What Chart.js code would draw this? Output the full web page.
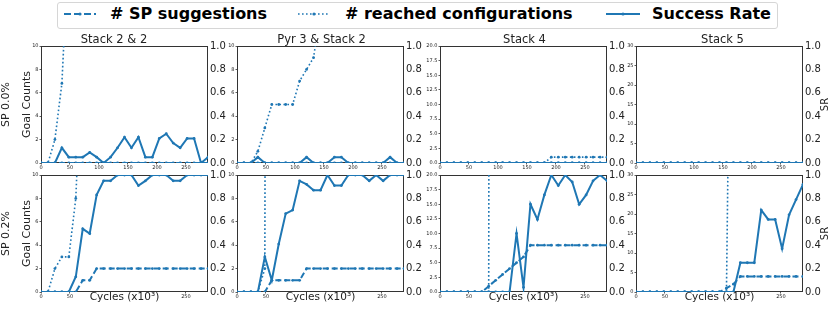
<!DOCTYPE html>
<html lang="en">
<head>
<meta charset="utf-8" />
<title>SP suggestions, reached configurations and success rate</title>
<style>
  * { margin: 0; padding: 0; }
  body {
    width: 831px;
    height: 312px;
    background: #fff;
    position: relative;
    overflow: hidden;
    font-family: "DejaVu Sans", sans-serif;
  }
  .panel { position: absolute; }
  #legend {
    position: absolute;
    left: 57px;
    top: 2px;
    width: 721px;
    height: 27px;
    border: 1px solid #d6d6d6;
    border-radius: 3px;
    box-sizing: border-box;
  }
  #legend svg { position: absolute; top: 6px; }
  #legend span {
    position: absolute;
    top: 2px;
    font-weight: bold;
    font-size: 16px;
    line-height: 18px;
    color: #000;
    white-space: nowrap;
  }
</style>
</head>
<body>
<div id="legend">
  <svg style="left:6px" width="32" height="10"><line x1="0" y1="5" x2="32" y2="5" stroke="#1f77b4" stroke-width="2" stroke-dasharray="7 3"/><circle cx="16" cy="5" r="1.6" fill="#1f77b4"/></svg>
  <span style="left:52px"># SP suggestions</span>
  <svg style="left:240px" width="32" height="10"><line x1="0" y1="5" x2="32" y2="5" stroke="#1f77b4" stroke-width="1.6" stroke-dasharray="1.6 2.4"/><circle cx="16" cy="5" r="1.6" fill="#1f77b4"/></svg>
  <span style="left:287px"># reached configurations</span>
  <svg style="left:548px" width="34" height="10"><line x1="0" y1="5" x2="34" y2="5" stroke="#1f77b4" stroke-width="2"/><circle cx="17" cy="5" r="1.6" fill="#1f77b4"/></svg>
  <span style="left:594px">Success Rate</span>
</div>

<script src="https://cdn.jsdelivr.net/npm/chart.js@4.4.1/dist/chart.umd.min.js"></script>
<script>
  // x values (cycles, x10^3)
  const cycles = [0, 12, 24, 36, 48, 60, 72, 84, 96, 108, 120, 132, 144, 156, 168, 180, 192, 204, 216, 228, 240, 252, 264, 276, 288];
  const tasks = ["Stack 2 & 2", "Pyr 3 & Stack 2", "Stack 4", "Stack 5"];
  const spRates = ["SP 0.0%", "SP 0.2%"];
  const cycleTicks = [0, 50, 100, 150, 200, 250];
  // in the lower row the axis title covers the middle labels
  const cycleTicksLower = [0, 50, 250];
  const countTicks = [
    [0, 2, 4, 6, 8, 10],
    [0, 2, 4, 6, 8, 10],
    [0, 2.5, 5, 7.5, 10, 12.5, 15, 17.5, 20],
    [0, 5, 10, 15, 20, 25, 30],
  ];
  const srTicks = [0, 0.2, 0.4, 0.6, 0.8, 1.0];

  // SP 0.0%
  const sugg_s22_00 = [0, 0, 0, 0, 0, 0, 0, 0, 0, 0, 0, 0, 0, 0, 0, 0, 0, 0, 0, 0, 0, 0, 0, 0, 0];
  const reached_s22_00 = [0, 0, 2, 6.8, 19, null, null, null, null, null, null, null, null, null, null, null, null, null, null, null, null, null, null, null, null];
  const sr_s22_00 = [0, 0, 0, 0.13, 0.05, 0.05, 0.05, 0.09, 0.05, 0, 0.05, 0.13, 0.22, 0.13, 0.22, 0.05, 0.05, 0.21, 0.25, 0.17, 0.13, 0.21, 0.21, 0, 0.05];

  const sugg_p3s2_00 = [0, 0, 0, 0, 0, 0, 0, 0, 0, 0, 0, 0, 0, 0, 0, 0, 0, 0, 0, 0, 0, 0, 0, 0, 0];
  const reached_p3s2_00 = [0, 0, 0, 1, 3, 5, 5, 5, 5, 7, 8, 9, 13, null, null, null, null, null, null, null, null, null, null, null, null];
  const sr_p3s2_00 = [0, 0, 0, 0.05, 0, 0, 0, 0, 0, 0, 0.05, 0, 0, 0, 0.05, 0.05, 0, 0, 0, 0, 0, 0, 0.05, 0, 0];

  const sugg_s4_00 = [0, 0, 0, 0, 0, 0, 0, 0, 0, 0, 0, 0, 0, 0, 0, 0, 0, 0, 0, 0, 0, 0, 0, 0, 0];
  const reached_s4_00 = [0, 0, 0, 0, 0, 0, 0, 0, 0, 0, 0, 0, 0, 0, 0, 0, 1, 1, 1, 1, 1, 1, 1, 1, 1];
  const sr_s4_00 = [0, 0, 0, 0, 0, 0, 0, 0, 0, 0, 0, 0, 0, 0, 0, 0, 0, 0, 0, 0, 0, 0, 0, 0, 0];

  const sugg_s5_00 = [0, 0, 0, 0, 0, 0, 0, 0, 0, 0, 0, 0, 0, 0, 0, 0, 0, 0, 0, 0, 0, 0, 0, 0, 0];
  const reached_s5_00 = [0, 0, 0, 0, 0, 0, 0, 0, 0, 0, 0, 0, 0, 0, 0, 0, 0, 0, 0, 0, 0, 0, 0, 0, 0];
  const sr_s5_00 = [0, 0, 0, 0, 0, 0, 0, 0, 0, 0, 0, 0, 0, 0, 0, 0, 0, 0, 0, 0, 0, 0, 0, 0, 0];

  // SP 0.2%
  const sugg_s22_02 = [0, 0, 0, 0, 0, 0, 1, 1, 2, 2, 2, 2, 2, 2, 2, 2, 2, 2, 2, 2, 2, 2, 2, 2, 2];
  const reached_s22_02 = [0, 0, 2, 3, 3, 8, 22, null, null, null, null, null, null, null, null, null, null, null, null, null, null, null, null, null, null];
  const sr_s22_02 = [0, 0, 0, 0, 0, 0.13, 0.54, 0.5, 0.83, 0.95, 0.95, 1, 1, 1, 0.91, 0.95, 1, 1, 1, 0.95, 0.95, 1, 1, 1, 1];

  const sugg_p3s2_02 = [0, 0, 0, 0, 0, 1, 1, 1, 1, 1, 2, 2, 2, 2, 2, 2, 2, 2, 2, 2, 2, 2, 2, 2, 2];
  const reached_p3s2_02 = [0, 0, 0, 0, 2, 300, null, null, null, null, null, null, null, null, null, null, null, null, null, null, null, null, null, null, null];
  const sr_p3s2_02 = [0, 0, 0, 0, 0.3, 0.1, 0.41, 0.67, 0.7, 0.95, 0.92, 0.87, 0.87, 1, 0.91, 0.91, 1, 1, 1, 0.95, 1, 0.95, 1, 1, 1];

  const sugg_s4_02 = [0, 0, 0, 0, 0, 0, 0, 1, 2, 3, 4, 5, 6, 8, 8, 8, 8, 8, 8, 8, 8, 8, 8, 8, 8];
  const reached_s4_02 = [0, 0, 0, 0, 0, 0, 0, 0, 1000, null, null, null, null, null, null, null, null, null, null, null, null, null, null, null, null];
  const sr_s4_02 = [0, 0, 0, 0, 0, 0, 0, 0, 0, 0, 0, 0.5, 0.04, 0.75, 0.62, 0.83, 1, 0.91, 1, 0.94, 0.75, 0.83, 0.95, 1, 0.95];

  const sugg_s5_02 = [0, 0, 0, 0, 0, 0, 0, 0, 0, 0, 0, 0, 0, 1, 2, 4, 4, 4, 4, 4, 4, 4, 4, 4, 4];
  const reached_s5_02 = [0, 0, 0, 0, 0, 0, 0, 0, 0, 0, 0, 0, 0, 0, 150, null, null, null, null, null, null, null, null, null, null];
  const sr_s5_02 = [0, 0, 0, 0, 0, 0, 0, 0, 0, 0, 0, 0, 0, 0, 0, 0.25, 0.25, 0.25, 0.7, 0.62, 0.62, 0.37, 0.66, 0.79, 0.92];

  const panels = [
    { r: 0, c: 0, sugg: sugg_s22_00, reached: reached_s22_00, sr: sr_s22_00 },
    { r: 0, c: 1, sugg: sugg_p3s2_00, reached: reached_p3s2_00, sr: sr_p3s2_00 },
    { r: 0, c: 2, sugg: sugg_s4_00, reached: reached_s4_00, sr: sr_s4_00 },
    { r: 0, c: 3, sugg: sugg_s5_00, reached: reached_s5_00, sr: sr_s5_00 },
    { r: 1, c: 0, sugg: sugg_s22_02, reached: reached_s22_02, sr: sr_s22_02 },
    { r: 1, c: 1, sugg: sugg_p3s2_02, reached: reached_p3s2_02, sr: sr_p3s2_02 },
    { r: 1, c: 2, sugg: sugg_s4_02, reached: reached_s4_02, sr: sr_s4_02 },
    { r: 1, c: 3, sugg: sugg_s5_02, reached: reached_s5_02, sr: sr_s5_02 },
  ];

  // layout of the plot areas on the page
  const COLS = [41, 237, 440, 636];
  const ROWS = [46, 175];
  const AREA_W = 167;
  const AREA_H = 117;
  const C0 = "#1f77b4";
  const INK = "#222";

  Chart.defaults.font.family = "'DejaVu Sans', sans-serif";

  const frame = {
    id: "frame",
    beforeDatasetsDraw(chart) {
      const { ctx, chartArea: a } = chart;
      ctx.save();
      ctx.strokeStyle = "#333";
      ctx.lineWidth = 1;
      ctx.strokeRect(Math.round(a.left) + 0.5, Math.round(a.top) + 0.5, Math.round(a.right - a.left) - 1, Math.round(a.bottom - a.top) - 1);
      ctx.restore();
    },
  };

  const srLabel = {
    id: "srLabel",
    afterDraw(chart, args, opts) {
      if (!opts.show) return;
      const { ctx, chartArea: a } = chart;
      ctx.save();
      ctx.font = "10px 'DejaVu Sans'";
      ctx.fillStyle = INK;
      ctx.textAlign = "center";
      ctx.textBaseline = "middle";
      ctx.translate(chart.width - 6, (a.top + a.bottom) / 2);
      ctx.rotate(-Math.PI / 2);
      ctx.fillText("SR", 0, 0);
      ctx.restore();
    },
  };

  const pts = (vals) => cycles.map((x, i) => ({ x: x, y: vals[i] }));

  panels.forEach((p) => {
    const L = p.c === 0 ? COLS[0] + 4 : 22;
    const R = p.c === 3 ? 831 - (COLS[3] + AREA_W) : 24;
    const T = p.r === 0 ? 12 : 8;
    const B = p.r === 0 ? 9 : 312 - (ROWS[1] + AREA_H);
    const xTicks = p.r === 0 ? cycleTicks : cycleTicksLower;

    const box = document.createElement("div");
    box.className = "panel";
    box.style.left = COLS[p.c] - L + "px";
    box.style.top = ROWS[p.r] - T + "px";
    box.style.width = L + AREA_W + R + "px";
    box.style.height = T + AREA_H + B + "px";
    const canvas = document.createElement("canvas");
    box.appendChild(canvas);
    document.body.appendChild(box);

    const ticksCount = countTicks[p.c];

    new Chart(canvas, {
      type: "line",
      data: {
        datasets: [
          {
            label: "Success Rate",
            data: pts(p.sr),
            yAxisID: "y1",
            borderColor: C0,
            backgroundColor: C0,
            borderWidth: 2,
            pointRadius: 1.4,
            pointBorderWidth: 0,
            order: 0,
          },
          {
            label: "# reached configurations",
            data: pts(p.reached),
            yAxisID: "y",
            borderColor: C0,
            backgroundColor: C0,
            borderWidth: 1.6,
            borderDash: [1.6, 2.4],
            pointRadius: 1.4,
            pointBorderWidth: 0,
            order: 1,
          },
          {
            label: "# SP suggestions",
            data: pts(p.sugg),
            yAxisID: "y",
            borderColor: C0,
            backgroundColor: C0,
            borderWidth: 2,
            borderDash: [6, 3],
            pointRadius: 1.4,
            pointBorderWidth: 0,
            order: 2,
          },
        ],
      },
      options: {
        responsive: true,
        maintainAspectRatio: false,
        animation: false,
        events: [],
        layout: { padding: { top: p.r === 0 ? 0 : T, left: 0, right: 0, bottom: 0 } },
        plugins: {
          legend: { display: false },
          tooltip: { enabled: false },
          title: {
            display: p.r === 0,
            text: tasks[p.c],
            color: INK,
            font: { size: 11.5, weight: "normal", lineHeight: "12px" },
            padding: 0,
          },
          srLabel: { show: p.c === 3 },
        },
        scales: {
          x: {
            type: "linear",
            min: 0,
            max: 288,
            afterBuildTicks: (s) => { s.ticks = xTicks.map((v) => ({ value: v })); },
            afterFit: (s) => { s.height = B; s.paddingLeft = 0; s.paddingRight = 0; },
            border: { display: false },
            grid: { drawOnChartArea: false, tickLength: 1.5, color: "#333", lineWidth: 0.8 },
            ticks: { font: { size: 5 }, color: INK, padding: 0.5, maxRotation: 0, autoSkip: false, callback: (v) => String(v) },
            title: {
              display: p.r === 1,
              text: "Cycles (x10³)",
              color: INK,
              font: { size: 10.5, lineHeight: "10px" },
              padding: { top: 0, bottom: 10 },
            },
          },
          y: {
            position: "left",
            min: 0,
            max: ticksCount[ticksCount.length - 1],
            afterBuildTicks: (s) => { s.ticks = ticksCount.map((v) => ({ value: v })); },
            afterFit: (s) => { s.width = L; s.paddingTop = 0; s.paddingBottom = 0; },
            border: { display: false },
            grid: { drawOnChartArea: false, tickLength: 1.5, color: "#333", lineWidth: 0.8 },
            ticks: {
              font: { size: 5 },
              color: INK,
              padding: 1,
              callback: (v) => (p.c === 2 ? v.toFixed(1) : String(v)),
            },
            title: {
              display: p.c === 0,
              text: [spRates[p.r], "Goal Counts"],
              color: INK,
              font: { size: 11, lineHeight: "21px" },
              padding: 0,
            },
          },
          y1: {
            position: "right",
            min: 0,
            max: 1,
            afterBuildTicks: (s) => { s.ticks = srTicks.map((v) => ({ value: v })); },
            afterFit: (s) => { s.width = R; s.paddingTop = 0; s.paddingBottom = 0; },
            border: { display: false },
            grid: { display: false, drawTicks: false },
            ticks: { font: { size: 10 }, color: INK, padding: 2, callback: (v) => v.toFixed(1) },
          },
        },
      },
      plugins: [frame, srLabel],
    });
  });
</script>
</body>
</html>
